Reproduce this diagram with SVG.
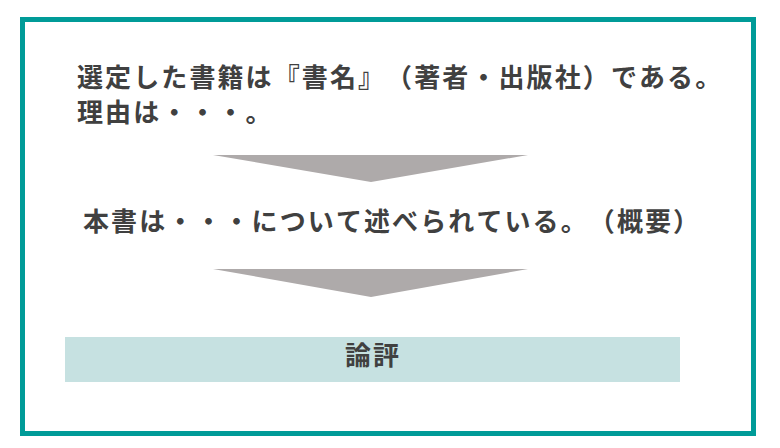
<svg xmlns="http://www.w3.org/2000/svg" width="780" height="448" viewBox="0 0 780 448">
<style>
.t{font-family:"Noto Sans CJK JP","Noto Sans CJK SC",sans-serif;font-weight:bold;font-size:26px;fill:#404040;letter-spacing:2.1px;text-spacing-trim:space-all;font-kerning:none}
.arr{fill:#aeaaaa}
</style>
<rect x="0" y="0" width="780" height="448" fill="#ffffff"/>
<g id="frame">
<rect x="22.5" y="19.5" width="731" height="414" fill="#ffffff" stroke="#009b98" stroke-width="5"/>
</g>
<g id="intro">
<text class="t" x="77" y="87">選定した書籍は『書名』（著者・出版社）である。</text>
<text class="t" x="77" y="122">理由は・・・。</text>
</g>
<g id="summary">
<text class="t" x="83" y="231">本書は・・・について述べられている。（概要）</text>
</g>
<g id="review">
<rect x="65" y="337" width="615" height="45" fill="#c6e1e1"/>
<text class="t" x="373" y="365" text-anchor="middle" letter-spacing="0">論評</text>
</g>
<g id="connectors">
<polygon class="arr" points="213,155 528,155 371,182"/>
<polygon class="arr" points="213,269 528,269 371,297"/>
</g>
</svg>
